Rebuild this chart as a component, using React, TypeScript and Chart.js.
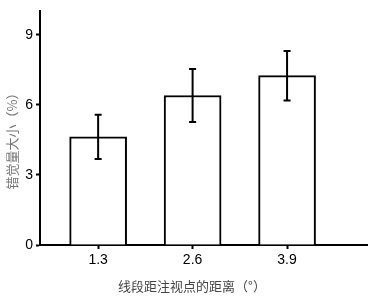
import React, { useEffect, useRef } from "react";
import { Chart, registerables } from "chart.js";

Chart.register(...registerables);

const categories = [1.3, 2.6, 3.9];
const means = [4.63, 6.4, 7.25];
const errors = [0.95, 1.13, 1.06];
const yTicks = [0, 3, 6, 9];
const xTitle = "线段距注视点的距离（°）";
const yTitle = "错觉量大小（%）";

const errorBarPlugin = {
  id: "errorBars",
  afterDatasetsDraw(chart: any) {
    const ctx = chart.ctx;
    const xs = chart.scales.x;
    const ys = chart.scales.y;
    ctx.save();
    ctx.strokeStyle = "#000";
    ctx.lineWidth = 2;
    categories.forEach((c, i) => {
      const x = xs.getPixelForValue(c);
      const top = ys.getPixelForValue(means[i] + errors[i]);
      const bot = ys.getPixelForValue(means[i] - errors[i]);
      ctx.beginPath();
      ctx.moveTo(x, top);
      ctx.lineTo(x, bot);
      ctx.moveTo(x - 3.5, top);
      ctx.lineTo(x + 3.5, top);
      ctx.moveTo(x - 3.5, bot);
      ctx.lineTo(x + 3.5, bot);
      ctx.stroke();
    });
    ctx.restore();
  },
};

const titlePlugin = {
  id: "titles",
  afterDraw(chart: any) {
    const ctx = chart.ctx;
    ctx.save();
    ctx.font = '13px "Noto Sans CJK SC"';
    ctx.textAlign = "center";
    ctx.textBaseline = "middle";
    ctx.fillStyle = "#444";
    ctx.fillText(xTitle, 192, 286);
    ctx.translate(12, 138);
    ctx.rotate(-Math.PI / 2);
    ctx.fillStyle = "#777";
    ctx.fillText(yTitle, 0, 0);
    ctx.restore();
  },
};

export default function App() {
  const ref = useRef<HTMLCanvasElement>(null);
  useEffect(() => {
    if (!ref.current) return;
    const chart = new Chart(ref.current, {
      type: "bar",
      data: {
        datasets: [
          {
            data: categories.map((c, i) => ({ x: c, y: means[i] })),
            backgroundColor: "#fff",
            borderColor: "#000",
            borderWidth: 2,
            barThickness: 57,
          },
        ],
      },
      options: {
        animation: false,
        responsive: false,
        layout: { padding: { top: 2, right: 2, left: 0, bottom: 0 } },
        plugins: { legend: { display: false }, tooltip: { enabled: false } },
        scales: {
          x: {
            type: "linear",
            min: 0.5,
            max: 5,
            offset: false,
            afterBuildTicks: (s: any) => {
              s.ticks = categories.map((v) => ({ value: v }));
            },
            afterFit: (s: any) => {
              s.height = 52;
            },
            ticks: {
              callback: (v: any) => Number(v).toFixed(1),
              color: "#000",
              font: { family: "Liberation Sans", size: 14 },
              padding: 3,
              maxRotation: 0,
            },
            grid: {
              offset: false,
              drawOnChartArea: false,
              drawTicks: true,
              tickLength: 4,
              tickColor: "#000",
              tickWidth: 2,
            },
            border: { display: true, color: "#000", width: 2 },
          },
          y: {
            min: 0,
            max: 10,
            afterBuildTicks: (s: any) => {
              s.ticks = yTicks.map((v) => ({ value: v }));
            },
            afterFit: (s: any) => {
              s.width = 40;
            },
            ticks: {
              color: "#000",
              font: { family: "Liberation Sans", size: 14 },
              padding: 3,
            },
            grid: {
              drawOnChartArea: false,
              drawTicks: true,
              tickLength: 4,
              tickColor: "#000",
              tickWidth: 2,
            },
            border: { display: true, color: "#000", width: 2 },
          },
        },
      },
      plugins: [errorBarPlugin, titlePlugin],
    } as any);
    return () => chart.destroy();
  }, []);
  return (
    <div style={{ position: "absolute", left: 0, top: 0, width: 369, height: 297, background: "#fff" }}>
      <canvas ref={ref} width={369} height={297} />
    </div>
  );
}
